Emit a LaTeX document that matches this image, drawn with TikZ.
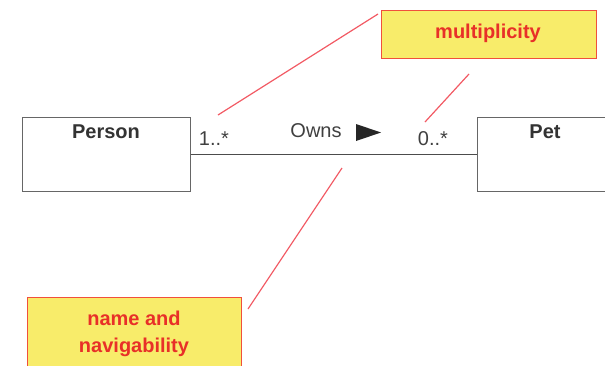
\documentclass[tikz,border=0pt]{standalone}
\usepackage{fontspec}
\setmainfont{Liberation Sans}
\definecolor{notefill}{RGB}{248,236,106}
\definecolor{noteborder}{RGB}{240,80,60}
\definecolor{notetext}{RGB}{232,48,40}
\definecolor{leadercol}{RGB}{242,90,100}
\begin{document}
\begin{tikzpicture}[x=1pt,y=-1pt,
  classbox/.style={draw=black!60,line width=1pt,rectangle,inner sep=0pt},
  classname/.style={font=\fontsize{20}{23}\selectfont\bfseries,text=black!80,anchor=base,inner sep=0pt},
  plain/.style={font=\fontsize{20}{23}\selectfont,text=black!75,anchor=base,inner sep=0pt},
  notebox/.style={draw=noteborder,line width=1pt,fill=notefill,rectangle,inner sep=0pt},
  notetxt/.style={font=\fontsize{20}{27}\selectfont\bfseries,text=notetext,align=center,inner sep=0pt},
  leader/.style={draw=leadercol,line width=1.2pt},
  assoc/.style={draw=black!70,line width=1pt}]
\useasboundingbox (0,0) rectangle (605,365);
\clip (0,0) rectangle (605,365);
% classes
\node[classbox,minimum width=168pt,minimum height=74pt] (person) at (106,154) {};
\node[classname] (personname) at (106,138) {Person};
\node[classbox,minimum width=136pt,minimum height=74pt] (pet) at (545,154) {};
\node[classname] (petname) at (545,138) {Pet};
% association
\draw[assoc] (person.east) -- (pet.west);
\node[plain] (m1) at (214,145) {1..*};
\node[plain] (m2) at (433,145) {0..*};
\node[plain] (owns) at (316,137) {Owns};
\coordinate (t1) at (356,124);
\coordinate (t2) at (381,132.5);
\coordinate (t3) at (356,141);
\fill[black!85] (t1) -- (t2) -- (t3) -- cycle;
% notes
\node[notebox,minimum width=215pt,minimum height=48pt] (mult) at (488.5,34.5) {};
\node[notetxt,anchor=base] (multtxt) at (488,38) {multiplicity};
\node[notebox,minimum width=214pt,minimum height=90pt,anchor=north] (nav) at (134,297) {};
\node[notetxt,anchor=base] (navtxt) at (134,352) {name and\\navigability};
% leader lines
\coordinate (a1) at (378,14);
\coordinate (a2) at (218,115);
\coordinate (b1) at (469,74);
\coordinate (b2) at (425,122);
\coordinate (c1) at (248,309);
\coordinate (c2) at (342,168);
\draw[leader] (a1) -- (a2);
\draw[leader] (b1) -- (b2);
\draw[leader] (c1) -- (c2);
\end{tikzpicture}
\end{document}
